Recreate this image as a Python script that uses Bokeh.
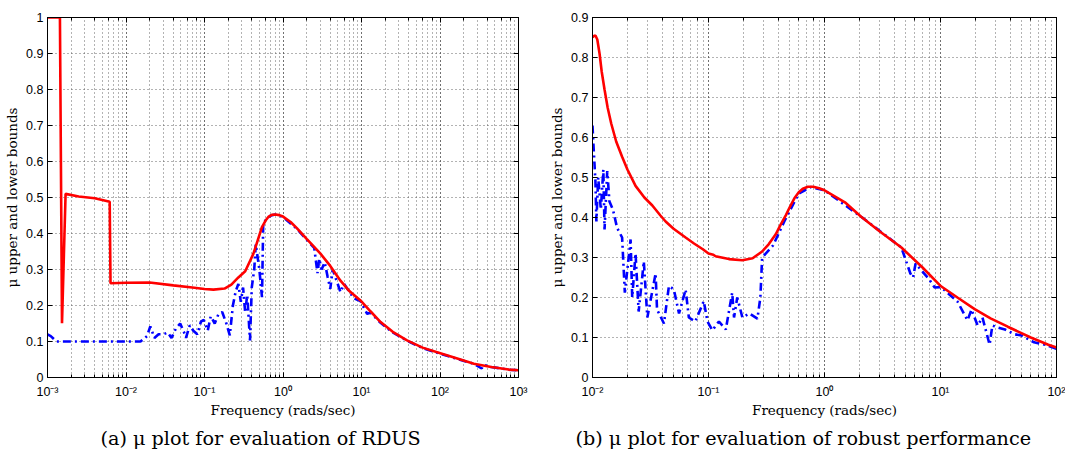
from bokeh.plotting import figure
from bokeh.layouts import row
from bokeh.models import (Range1d, FixedTicker, CustomJSTickFormatter, Title,
                          LogAxis, LinearAxis)
from bokeh.embed import file_html
from bokeh.resources import INLINE

# ---------------- data (a): RDUS ----------------
freq_a_upper = [0.001, 0.00144, 0.00153, 0.0017, 0.0025, 0.004, 0.0062, 0.00635, 0.01, 0.02,
                0.04, 0.07, 0.1, 0.13, 0.18, 0.22, 0.27, 0.33, 0.42, 0.54, 0.6, 0.65, 0.72, 0.8, 0.9,
                1.0, 1.25, 1.5, 2.0, 3.0, 4.0, 5.4, 7.0, 9.7, 13, 17.5, 25, 38, 60, 101, 170, 270,
                450, 750, 1000]
mu_a_upper = [1.0, 1.0, 0.151, 0.51, 0.503, 0.498, 0.488, 0.262, 0.263, 0.264,
              0.256, 0.25, 0.246, 0.244, 0.247, 0.258, 0.278, 0.295, 0.344, 0.418, 0.436, 0.446, 0.452, 0.453, 0.451,
              0.447, 0.432, 0.415, 0.385, 0.344, 0.31, 0.269, 0.24, 0.214, 0.184, 0.154, 0.127, 0.103, 0.083,
              0.0676, 0.052, 0.038, 0.029, 0.022, 0.02]

freq_a_lower = [0.001, 0.0011, 0.0013, 0.0015, 0.005, 0.01, 0.0153, 0.0185, 0.0204, 0.023,
                0.026, 0.03, 0.034, 0.038, 0.043, 0.049, 0.055, 0.058, 0.065, 0.072, 0.081,
                0.09, 0.098, 0.11, 0.12, 0.135, 0.15, 0.168, 0.19, 0.21, 0.23, 0.25, 0.27,
                0.29, 0.31, 0.33, 0.35, 0.38, 0.40, 0.43, 0.45, 0.5, 0.54, 0.56, 0.62, 0.7,
                0.8, 1.0, 1.5, 2.0, 2.5, 2.75, 2.9, 3.1, 3.4, 3.7, 4.0, 4.3, 4.8, 5.4, 6.0,
                7.0, 8.0, 9.7, 11.8, 13, 17.5, 25, 38, 60, 101, 170, 270, 340, 360, 450, 750, 1000]
mu_a_lower = [0.12, 0.115, 0.1, 0.1, 0.1, 0.1, 0.1, 0.115, 0.142, 0.11,
              0.12, 0.12, 0.125, 0.11, 0.135, 0.15, 0.125, 0.11, 0.145, 0.13, 0.12,
              0.155, 0.16, 0.13, 0.17, 0.15, 0.175, 0.182, 0.15, 0.117, 0.2, 0.24, 0.26,
              0.21, 0.25, 0.18, 0.23, 0.103, 0.25, 0.3, 0.37, 0.3, 0.223, 0.43, 0.44, 0.45,
              0.453, 0.446, 0.413, 0.383, 0.36, 0.29, 0.33, 0.3, 0.32, 0.28, 0.246, 0.3, 0.27, 0.237, 0.26,
              0.238, 0.22, 0.212, 0.177, 0.18, 0.152, 0.125, 0.102, 0.082, 0.066, 0.051, 0.038, 0.025, 0.035,
              0.029, 0.022, 0.02]

# ---------------- data (b): robust performance ----------------
freq_b_upper = [0.01, 0.0102, 0.0106, 0.011, 0.0115, 0.012, 0.0127, 0.0135, 0.0145, 0.016,
                0.018, 0.02, 0.0235, 0.028, 0.0328, 0.0385, 0.0427, 0.05, 0.0635, 0.075,
                0.09, 0.1, 0.11, 0.115, 0.15, 0.196, 0.24, 0.29, 0.33, 0.38, 0.42, 0.465,
                0.5, 0.55, 0.6, 0.65, 0.72, 0.8, 0.9, 1.0, 1.5, 2.07, 3.0, 4.6, 7.0, 10.1,
                14, 19.7, 27, 38, 60, 85, 100]
mu_b_upper = [0.85, 0.853, 0.855, 0.845, 0.81, 0.765, 0.72, 0.675, 0.635, 0.59,
              0.552, 0.52, 0.479, 0.45, 0.43, 0.405, 0.39, 0.372, 0.35, 0.335,
              0.32, 0.31, 0.307, 0.303, 0.296, 0.293, 0.298, 0.315, 0.333, 0.358, 0.383, 0.406,
              0.425, 0.448, 0.463, 0.472, 0.477, 0.477, 0.473, 0.468, 0.438, 0.402, 0.365, 0.325, 0.275, 0.228,
              0.2, 0.171, 0.148, 0.127, 0.1, 0.082, 0.075]

freq_b_lower = [0.01, 0.0102, 0.0106, 0.0108, 0.0112, 0.0118, 0.0124, 0.0127, 0.0134, 0.0140,
                0.0150, 0.0163, 0.018, 0.019, 0.0213, 0.022, 0.0235, 0.025, 0.0277, 0.0297,
                0.035, 0.036, 0.0413, 0.0456, 0.0503, 0.0557, 0.0635, 0.0677, 0.077, 0.091,
                0.098, 0.108, 0.123, 0.141, 0.16, 0.166, 0.177, 0.196, 0.225, 0.264, 0.28,
                0.29, 0.36, 0.45, 0.6, 0.76, 1.0, 2.07, 4.6, 5.5, 5.8, 6.1, 8.0, 8.9, 10.1,
                14, 17.1, 18.5, 20.9, 23, 26.5, 28, 31.3, 36, 43.5, 50, 64, 80, 100]
mu_b_lower = [0.63, 0.58, 0.49, 0.39, 0.5, 0.42, 0.52, 0.37, 0.516, 0.44,
              0.42, 0.374, 0.35, 0.212, 0.345, 0.2, 0.31, 0.165, 0.29, 0.15,
              0.26, 0.17, 0.135, 0.229, 0.22, 0.16, 0.22, 0.15, 0.14, 0.191,
              0.14, 0.118, 0.14, 0.12, 0.212, 0.15, 0.2, 0.15, 0.16, 0.147, 0.2,
              0.3, 0.33, 0.39, 0.46, 0.476, 0.468, 0.402, 0.325, 0.26, 0.25, 0.285, 0.245, 0.225, 0.226,
              0.19, 0.143, 0.17, 0.13, 0.15, 0.082, 0.13, 0.125, 0.12, 0.108, 0.105, 0.088, 0.082, 0.072]

yticks_a = [0, 0.1, 0.2, 0.3, 0.4, 0.5, 0.6, 0.7, 0.8, 0.9, 1.0]
yticks_b = [0, 0.1, 0.2, 0.3, 0.4, 0.5, 0.6, 0.7, 0.8, 0.9]

caption_a = "(a) \u03bc plot for evaluation of RDUS"
caption_b = "(b) \u03bc plot for evaluation of robust performance"
xlabel = "Frequency (rads/sec)"
ylabel = "\u03bc upper and lower bounds"

SUP_JS = """
const sup = {'-':'\u207b','0':'\u2070','1':'\u00b9','2':'\u00b2','3':'\u00b3','4':'\u2074',
             '5':'\u2075','6':'\u2076','7':'\u2077','8':'\u2078','9':'\u2079'};
const e = Math.round(Math.log10(tick));
return '10' + String(e).split('').map(c => sup[c]).join('');
"""


def style_ticks(ax):
    ax.axis_line_color = "black"
    ax.major_tick_in = 5
    ax.major_tick_out = 0
    ax.minor_tick_in = 3
    ax.minor_tick_out = 0


def make(xr, yr, yticks, fu, mu_u, fl, mu_l, caption, width, bl, br, bt, cap_size, cap_offset):
    p = figure(width=width, height=455, x_axis_type="log",
               x_range=Range1d(*xr), y_range=Range1d(*yr),
               output_backend="svg", toolbar_location=None,
               min_border_left=bl, min_border_right=br, min_border_top=bt,
               min_border_bottom=78)
    p.outline_line_color = "black"
    p.outline_line_width = 1
    p.background_fill_color = "white"
    p.border_fill_color = "white"

    for g in (p.xgrid, p.ygrid):
        g.grid_line_color = "#555555"
        g.grid_line_dash = "1 3"
        g.grid_line_width = 0.9
    p.xgrid.minor_grid_line_color = "#555555"
    p.xgrid.minor_grid_line_dash = "1 3"
    p.xgrid.minor_grid_line_width = 0.9

    p.yaxis.ticker = FixedTicker(ticks=yticks)
    p.yaxis.formatter = CustomJSTickFormatter(code="return String(Math.round(tick*10)/10);")
    p.xaxis.formatter = CustomJSTickFormatter(code=SUP_JS)

    for ax in (p.xaxis, p.yaxis):
        style_ticks(ax)
        ax.major_label_text_font = "Liberation Sans"
        ax.major_label_text_font_size = "12.5px"
        ax.major_label_text_color = "black"
        ax.axis_label_text_font = "DejaVu Serif"
        ax.axis_label_text_font_size = "13.5px"
        ax.axis_label_text_font_style = "normal"
        ax.axis_label_text_color = "black"
    p.yaxis.minor_tick_line_color = None
    p.yaxis.major_label_standoff = 4
    p.xaxis.major_label_standoff = 7
    p.xaxis.axis_label = xlabel
    p.yaxis.axis_label = ylabel
    p.xaxis.axis_label_standoff = 0
    p.yaxis.axis_label_standoff = 3

    # mirrored tick marks on top and right (box on), labels invisible
    top = LogAxis(major_label_text_font_size="2px", major_label_text_alpha=0,
                  major_label_standoff=0)
    style_ticks(top)
    p.add_layout(top, "above")
    right = LinearAxis(ticker=FixedTicker(ticks=yticks), major_label_text_font_size="2px",
                       major_label_text_alpha=0, major_label_standoff=0)
    style_ticks(right)
    right.minor_tick_line_color = None
    p.add_layout(right, "right")

    p.line(fl, mu_l, color="#0000ff", line_width=2.6, line_dash="8 4 2 4")
    p.line(fu, mu_u, color="#ff0000", line_width=2.6)

    p.add_layout(Title(text=caption, align="left", text_font="DejaVu Serif",
                       text_font_size=cap_size, text_font_style="normal",
                       text_color="black", standoff=8, offset=cap_offset), "below")
    return p


pa = make((1e-3, 1e3), (0, 1), yticks_a, freq_a_upper, mu_a_upper, freq_a_lower, mu_a_lower,
          caption_a, 535, 47, 17, 17, "19.2px", 53)
pb = make((1e-2, 1e2), (0, 0.9), yticks_b, freq_b_upper, mu_b_upper, freq_b_lower, mu_b_lower,
          caption_b, 530, 57, 9, 7, "19.2px", -17)

layout = row(pa, pb)
open("out.html", "w").write(file_html(layout, INLINE))
